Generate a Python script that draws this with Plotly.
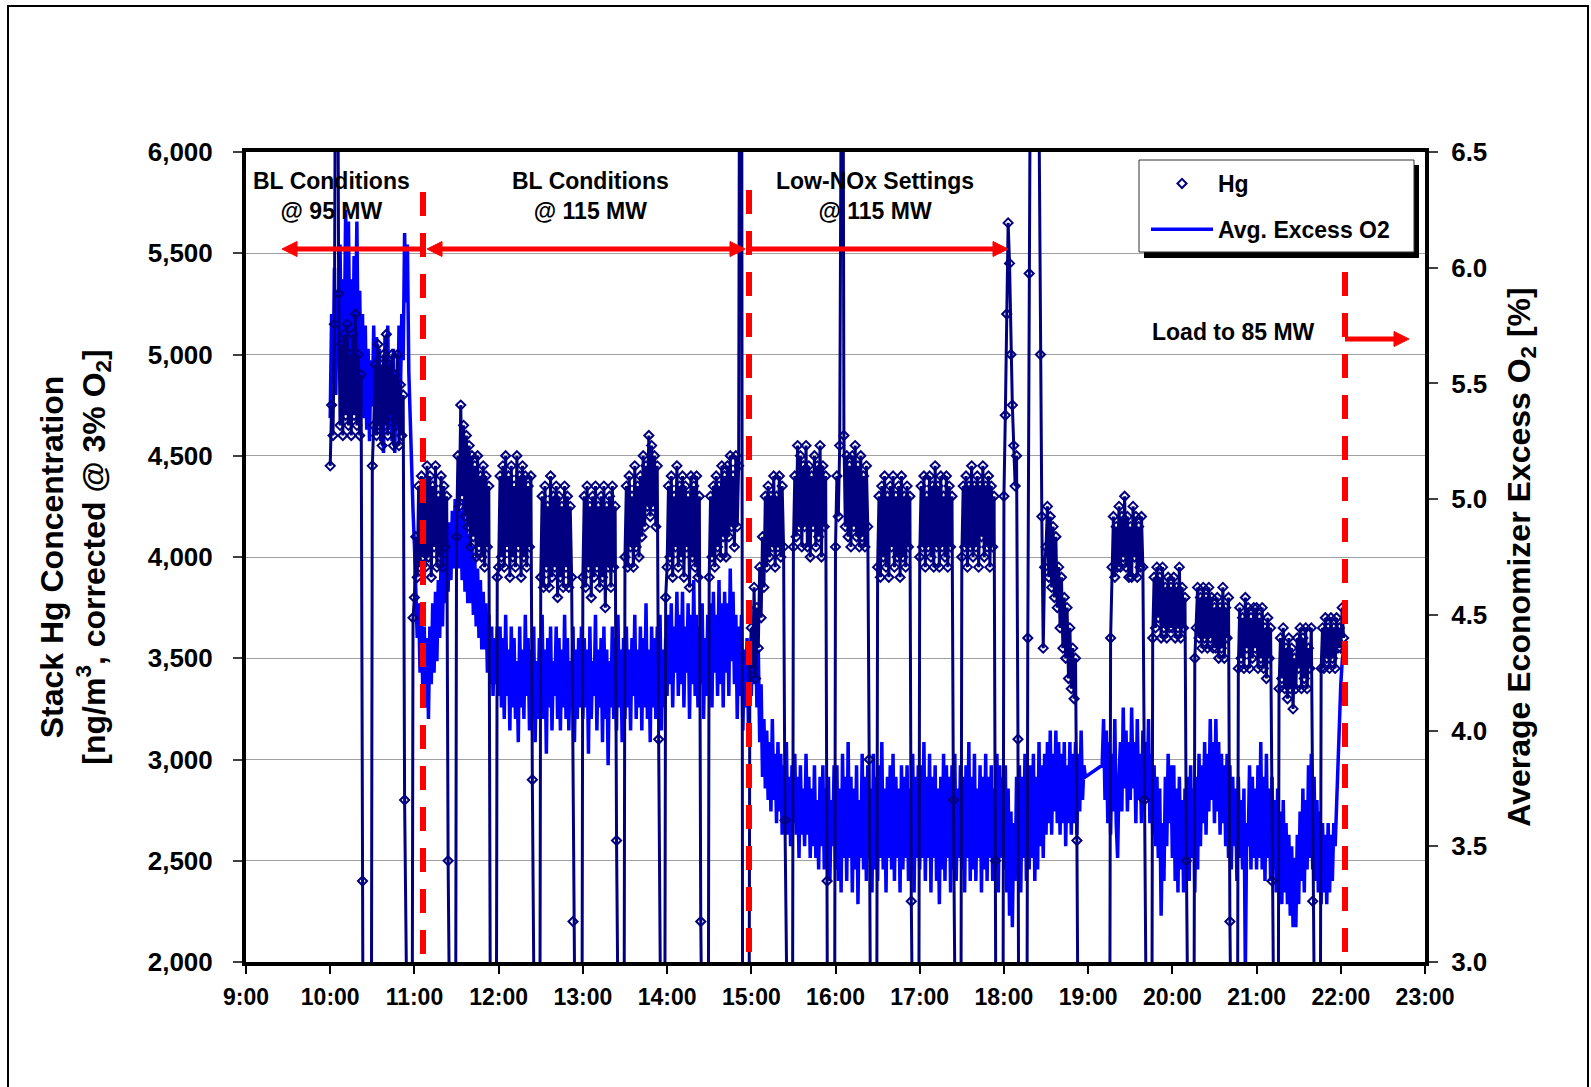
import plotly.graph_objects as go

# ---------------- DATA ----------------
tick_hours = [9, 10, 11, 12, 13, 14, 15, 16, 17, 18, 19, 20, 21, 22, 23]
tick_labels = ["9:00", "10:00", "11:00", "12:00", "13:00", "14:00", "15:00", "16:00",
               "17:00", "18:00", "19:00", "20:00", "21:00", "22:00", "23:00"]

# Stack Hg, ng/m3 @3% O2, 1-minute readings; each block starts at the given time
hg_1000 = [4450, 4750, 4600, 5150, 7200, 7600, 5300, 4650, 5050, 4600, 5100, 4700, 5150, 4650, 5000,
           4600, 5100, 4700, 5200, 4650, 5000, 4600, 4900, 2400, 160, 140, 180, 150, 170, 150]
hg_1030 = [4450, 4650, 4950, 4600, 5050, 4650, 4950, 4550, 5000, 4650, 5100, 4600, 4950, 4700, 5000,
           4550, 4900, 4650, 5000, 4550, 4850, 4600, 4800, 2800, 170, 150, 160, 140, 180, 3700]
hg_1100 = [3800, 4100, 3900, 4350, 3950, 4400, 4000, 4350, 3950, 4450, 4000, 4400, 3900, 4350, 4050,
           4450, 3950, 4300, 4000, 4400, 3950, 4350, 4050, 4300, 2500, 150, 170, 140, 160, 150]
hg_1130 = [4100, 4500, 4250, 4750, 4300, 4650, 4200, 4600, 4150, 4550, 4050, 4500, 4100, 4450, 4000,
           4500, 4050, 4400, 4000, 4450, 3950, 4400, 4050, 4350, 1900, 160, 140, 150, 170, 3900]
hg_1200 = [3950, 4400, 4000, 4450, 3950, 4500, 4050, 4400, 3900, 4450, 4000, 4350, 3950, 4500, 4050,
           4400, 3900, 4450, 4000, 4400, 3950, 4350, 4050, 4400, 2900, 150, 160, 140, 170, 150]
hg_1230 = [3900, 4300, 3850, 4350, 3950, 4250, 3850, 4400, 3900, 4300, 3950, 4350, 3800, 4300, 3900,
           4250, 3850, 4350, 3950, 4300, 3850, 4250, 3900, 2200, 160, 150, 140, 170, 150, 160]
hg_1300 = [3900, 4300, 3850, 4350, 3950, 4250, 3800, 4300, 3900, 4350, 3950, 4250, 3850, 4300, 3900,
           4350, 3750, 4250, 3950, 4300, 3850, 4350, 3950, 4250, 2600, 150, 170, 140, 160, 150]
hg_1330 = [4000, 4350, 3950, 4400, 4050, 4300, 3950, 4450, 4050, 4350, 4000, 4400, 4100, 4500, 4150,
           4450, 4250, 4600, 4200, 4550, 4250, 4500, 4150, 4450, 3100, 150, 160, 140, 170, 3800]
hg_1400 = [3950, 4350, 4000, 4400, 3900, 4300, 4050, 4450, 3950, 4350, 4000, 4400, 3900, 4350, 4050,
           4300, 3850, 4400, 4000, 4350, 3950, 4400, 3900, 4300, 2200, 160, 150, 140, 170, 150]
hg_1430 = [3900, 4300, 4000, 4350, 3950, 4400, 4050, 4350, 4000, 4450, 4100, 4400, 4000, 4450, 4100,
           4500, 4150, 4400, 4050, 4500, 4150, 4450, 8000, 8000, 150, 160, 140, 170, 150, 3500]
hg_1500 = [3650, 3450, 3850, 3400, 3750, 3550, 3950, 3700, 4100, 3850, 4300, 3950, 4350, 4000, 4300,
           4050, 4400, 3950, 4300, 4050, 4400, 4000, 4350, 4050, 2700, 150, 170, 160, 140, 150]
hg_1530 = [4050, 4400, 4100, 4550, 4150, 4500, 4050, 4450, 4150, 4550, 4050, 4450, 4000, 4400, 4150,
           4500, 4050, 4450, 4100, 4550, 4000, 4450, 4150, 4400, 2400, 160, 150, 170, 140, 150]
hg_1600 = [4050, 4400, 4200, 4550, 8000, 8000, 4600, 4150, 4500, 4100, 4450, 4050, 4500, 4150, 4550,
           4100, 4450, 4050, 4500, 4100, 4400, 4050, 4450, 4150, 3000, 150, 140, 160, 170, 150]
hg_1630 = [3950, 4300, 3900, 4350, 4000, 4400, 3950, 4300, 3900, 4350, 4050, 4400, 3950, 4300, 4000,
           4350, 3900, 4400, 4000, 4300, 3950, 4350, 4050, 4300, 2300, 160, 150, 140, 170, 160]
hg_1700 = [4000, 4350, 4050, 4400, 3950, 4300, 4050, 4400, 4000, 4350, 3950, 4450, 4050, 4350, 3950,
           4400, 4050, 4300, 4000, 4400, 3950, 4350, 4050, 4300, 2800, 150, 160, 140, 150, 170]
hg_1730 = [4000, 4350, 4050, 4400, 3950, 4350, 4050, 4450, 4000, 4350, 4050, 4400, 3950, 4350, 4100,
           4450, 4000, 4350, 4050, 4400, 3950, 4350, 4050, 4300, 2500, 150, 170, 160, 140, 150]
hg_1800 = [4300, 4700, 5200, 5650, 5450, 5000, 4750, 4550, 4350, 4500, 3100, 150, 160, 140, 170,
           150, 160, 3600, 5400, 6800, 8000, 8000, 8000, 8000, 8000, 6200, 5000, 4200, 3550, 3950]
hg_1830 = [4050, 4250, 3900, 4200, 3850, 4150, 3800, 4100, 3750, 3950, 3650, 3900, 3550, 3800, 3500,
           3750, 3400, 3650, 3350, 3550, 3300, 3500, 2600, 150, 140, 160, 170, 150, 140, 160]
hg_1900 = [150, 160, 140, 170, 150, 160, 140, 150, 170, 160, 150, 140, 160, 150, 170,
           150, 3600, 3950, 4200, 3900, 4150, 3950, 4250, 3950, 4200, 4000, 4300, 3950, 4200, 3900]
hg_1930 = [4150, 3900, 4250, 4000, 4200, 3900, 4150, 3950, 4200, 3950, 2800, 150, 160, 140, 170,
           150, 3600, 3900, 3650, 3950, 3700, 3900, 3600, 3950, 3650, 3850, 3600, 3900, 3650, 3850]
hg_2000 = [3650, 3900, 3600, 3850, 3650, 3950, 3600, 3850, 3650, 3800, 2500, 160, 150, 140, 170,
           150, 3500, 3650, 3850, 3600, 3800, 3550, 3850, 3600, 3800, 3550, 3850, 3600, 3800, 3550]
hg_2030 = [3750, 3550, 3800, 3500, 3750, 3550, 3850, 3500, 3750, 3600, 3800, 2200, 150, 160, 140,
           150, 170, 3450, 3750, 3500, 3700, 3450, 3800, 3550, 3750, 3450, 3700, 3500, 3750, 3550]
hg_2100 = [3750, 3450, 3700, 3500, 3750, 3450, 3650, 3400, 3700, 3500, 3650, 2400, 150, 160, 140,
           170, 3350, 3600, 3400, 3650, 3350, 3550, 3300, 3600, 3350, 3550, 3250, 3500, 3350, 3600]
hg_2130 = [3450, 3650, 3350, 3600, 3400, 3650, 3350, 3550, 3450, 3650, 2300, 150, 160, 140, 150,
           170, 3450, 3650, 3450, 3700, 3500, 3650, 3450, 3700, 3500, 3650, 3450, 3700, 3550, 3650]
hg_2200 = [3550, 3750, 3600]

# Average economizer excess O2, %, 1-minute readings; each block starts at the given time
o2_1000 = [5.35, 5.80, 5.50, 6.00, 5.45, 5.90, 5.60, 6.10, 5.55, 5.95,
           5.65, 6.25, 5.70, 6.20, 5.60, 5.95, 5.50, 6.05, 5.75, 6.20,
           5.55, 5.90, 5.45, 5.80, 5.35, 5.75, 5.30, 5.65, 5.25, 5.60,
           5.40, 5.75, 5.30, 5.70, 5.35, 5.65, 5.25, 5.55, 5.20, 5.70,
           5.35, 5.75, 5.30, 5.60, 5.25, 5.65, 5.20, 5.55, 5.30, 5.75,
           5.45, 5.80, 5.60, 6.15, 5.85, 6.10, 5.55, 5.30, 5.10, 4.95]
o2_1100 = [4.80, 4.60, 4.40, 4.55, 4.25, 4.50, 4.15, 4.45, 4.10, 4.40,
           4.05, 4.45, 4.20, 4.55, 4.25, 4.60, 4.30, 4.65, 4.40, 4.75,
           4.45, 4.80, 4.55, 4.85, 4.60, 4.90, 4.65, 4.95, 4.70, 5.00,
           4.75, 5.05, 4.70, 4.95, 4.65, 5.00, 4.60, 4.90, 4.55, 4.85,
           4.55, 4.80, 4.50, 4.75, 4.45, 4.70, 4.40, 4.65, 4.35, 4.60,
           4.35, 4.55, 4.25, 4.50, 4.20, 4.45, 4.15, 4.40, 4.20, 4.45]
o2_1200 = [4.15, 4.45, 4.10, 4.40, 4.05, 4.50, 4.15, 4.35, 4.00, 4.45,
           4.10, 4.40, 4.05, 4.30, 3.95, 4.45, 4.10, 4.35, 4.05, 4.50,
           4.15, 4.40, 4.00, 4.35, 4.10, 4.45, 3.95, 4.30, 4.05, 4.40,
           4.10, 4.50, 4.05, 4.35, 3.90, 4.40, 4.10, 4.45, 4.00, 4.30,
           4.15, 4.45, 4.05, 4.40, 4.00, 4.35, 4.10, 4.50, 4.05, 4.40,
           4.00, 4.30, 4.10, 4.45, 3.95, 4.35, 4.05, 4.40, 4.10, 4.45]
o2_1300 = [4.05, 4.40, 4.10, 4.35, 3.90, 4.45, 4.05, 4.30, 4.15, 4.50,
           4.00, 4.35, 4.10, 4.40, 3.95, 4.45, 4.05, 4.35, 3.85, 4.30,
           4.10, 4.45, 4.05, 4.40, 4.00, 4.50, 4.10, 4.35, 3.95, 4.40,
           4.05, 4.45, 4.10, 4.35, 4.00, 4.40, 4.15, 4.50, 4.05, 4.35,
           4.10, 4.45, 4.00, 4.40, 4.10, 4.55, 4.05, 4.35, 3.95, 4.45,
           4.10, 4.40, 4.05, 4.45, 4.15, 4.50, 4.00, 4.35, 4.10, 4.40]
o2_1400 = [4.15, 4.50, 4.20, 4.55, 4.10, 4.45, 4.25, 4.60, 4.15, 4.50,
           4.20, 4.60, 4.10, 4.45, 4.25, 4.55, 4.05, 4.50, 4.20, 4.65,
           4.15, 4.50, 4.10, 4.45, 4.20, 4.55, 4.05, 4.40, 4.15, 4.50,
           4.20, 4.55, 4.10, 4.60, 4.25, 4.50, 4.15, 4.65, 4.20, 4.55,
           4.10, 4.60, 4.25, 4.55, 4.15, 4.70, 4.30, 4.60, 4.20, 4.50,
           4.05, 4.45, 4.15, 4.50, 4.00, 4.35, 4.10, 4.40, 4.00, 4.25]
o2_1500 = [4.15, 4.45, 4.20, 4.50, 4.10, 4.35, 3.95, 4.20, 3.80, 4.05,
           3.75, 4.00, 3.70, 3.95, 3.65, 4.05, 3.70, 3.90, 3.60, 3.95,
           3.65, 3.90, 3.55, 3.85, 3.60, 3.95, 3.55, 3.80, 3.50, 3.85,
           3.60, 3.90, 3.55, 3.80, 3.45, 3.85, 3.55, 3.75, 3.50, 3.90,
           3.55, 3.80, 3.45, 3.75, 3.50, 3.85, 3.45, 3.70, 3.40, 3.80,
           3.50, 3.85, 3.40, 3.75, 3.45, 3.80, 3.35, 3.70, 3.50, 3.85]
o2_1600 = [3.40, 3.85, 3.35, 3.75, 3.30, 3.90, 3.45, 3.80, 3.35, 3.95,
           3.45, 3.80, 3.30, 3.75, 3.40, 3.85, 3.25, 3.70, 3.45, 3.90,
           3.40, 3.80, 3.35, 3.85, 3.45, 3.75, 3.30, 3.90, 3.40, 3.80,
           3.35, 3.85, 3.45, 3.95, 3.40, 3.75, 3.30, 3.80, 3.45, 3.85,
           3.40, 3.90, 3.35, 3.80, 3.45, 3.75, 3.30, 3.85, 3.40, 3.80,
           3.45, 3.85, 3.35, 3.75, 3.40, 3.90, 3.30, 3.80, 3.45, 3.85]
o2_1700 = [3.40, 3.85, 3.45, 3.95, 3.35, 3.80, 3.45, 3.90, 3.30, 3.80,
           3.45, 3.85, 3.35, 3.75, 3.25, 3.80, 3.40, 3.90, 3.35, 3.85,
           3.45, 3.80, 3.30, 3.85, 3.40, 3.90, 3.35, 3.75, 3.45, 3.85,
           3.40, 3.80, 3.30, 3.85, 3.45, 3.95, 3.35, 3.80, 3.40, 3.90,
           3.35, 3.75, 3.45, 3.85, 3.30, 3.80, 3.40, 3.90, 3.35, 3.80,
           3.45, 3.85, 3.35, 3.75, 3.40, 3.90, 3.30, 3.85, 3.45, 3.80]
o2_1800 = [3.40, 3.85, 3.30, 3.75, 3.20, 3.65, 3.15, 3.60, 3.35, 3.80,
           3.40, 3.85, 3.30, 3.80, 3.45, 3.90, 3.35, 3.75, 3.40, 3.85,
           3.45, 3.90, 3.35, 3.80, 3.40, 3.95, 3.50, 3.85, 3.45, 3.90,
           3.55, 3.95, 3.60, 4.00, 3.55, 3.90, 3.65, 4.00, 3.60, 3.95,
           3.55, 3.90, 3.60, 3.95, 3.50, 3.85, 3.60, 3.95, 3.55, 3.90,
           3.60, 3.95, 3.55, 3.90, 3.65, 4.00, 3.70, 3.85, 3.80]
o2_1910 = [3.85, 4.05, 3.70, 4.00, 3.60, 3.95, 3.55, 3.90, 3.65, 4.05,
           3.60, 3.45, 3.80, 3.95, 3.65, 4.10, 3.75, 4.00, 3.65, 3.95,
           3.70, 4.10, 3.75, 3.95, 3.60, 4.05, 3.70, 3.90, 3.60, 4.00,
           3.65, 3.95, 3.70, 4.05, 3.60, 3.90, 3.55, 3.85, 3.50, 3.80,
           3.45, 3.75, 3.20, 3.60, 3.35, 3.80, 3.50, 3.90, 3.60, 3.85]
o2_2000 = [3.45, 3.85, 3.35, 3.75, 3.30, 3.80, 3.40, 3.70, 3.30, 3.75,
           3.40, 3.80, 3.35, 3.85, 3.45, 3.75, 3.30, 3.80, 3.40, 3.90,
           3.50, 3.85, 3.60, 3.95, 3.55, 3.90, 3.65, 4.05, 3.70, 3.95,
           3.60, 4.05, 3.65, 3.95, 3.55, 3.90, 3.60, 3.85, 3.50, 3.90,
           3.45, 3.85, 3.40, 3.80, 3.50, 3.75, 3.35, 3.80, 3.45, 3.70,
           3.40, 3.75, 2.95, 3.60, 3.50, 3.85, 3.40, 3.80, 3.45, 3.75]
o2_2100 = [3.40, 3.85, 3.45, 3.95, 3.40, 3.80, 3.35, 3.90, 3.45, 3.75,
           3.35, 3.80, 3.40, 3.70, 3.30, 3.75, 3.35, 3.65, 3.25, 3.70,
           3.30, 3.60, 3.25, 3.55, 3.20, 3.50, 3.15, 3.45, 3.15, 3.55,
           3.25, 3.65, 3.35, 3.75, 3.30, 3.70, 3.40, 3.85, 3.45, 3.90,
           3.40, 3.80, 3.35, 3.70, 3.30, 3.65, 3.25, 3.60, 3.30, 3.55,
           3.25, 3.60, 3.30, 3.55, 3.35, 3.60, 3.50, 3.70, 3.90, 4.05,
           4.20, 4.30, 4.35]

hg_blocks = [("10:00", hg_1000), ("10:30", hg_1030), ("11:00", hg_1100), ("11:30", hg_1130),
             ("12:00", hg_1200), ("12:30", hg_1230), ("13:00", hg_1300), ("13:30", hg_1330),
             ("14:00", hg_1400), ("14:30", hg_1430), ("15:00", hg_1500), ("15:30", hg_1530),
             ("16:00", hg_1600), ("16:30", hg_1630), ("17:00", hg_1700), ("17:30", hg_1730),
             ("18:00", hg_1800), ("18:30", hg_1830), ("19:00", hg_1900), ("19:30", hg_1930),
             ("20:00", hg_2000), ("20:30", hg_2030), ("21:00", hg_2100), ("21:30", hg_2130),
             ("22:00", hg_2200)]
o2_blocks = [("10:00", o2_1000), ("11:00", o2_1100), ("12:00", o2_1200), ("13:00", o2_1300),
             ("14:00", o2_1400), ("15:00", o2_1500), ("16:00", o2_1600), ("17:00", o2_1700),
             ("18:00", o2_1800), ("19:10", o2_1910), ("20:00", o2_2000), ("21:00", o2_2100)]


def hm(s):
    h, m = s.split(":")
    return int(h) + int(m) / 60.0


def expand(blocks, step_min):
    xs, ys = [], []
    for start, vals in blocks:
        t0 = hm(start)
        for i, v in enumerate(vals):
            xs.append(t0 + i * step_min / 60.0)
            ys.append(v)
    return xs, ys


hg_x, hg_y = expand(hg_blocks, 1)
o2_x, o2_y = expand(o2_blocks, 1)

# ---------------- LAYOUT HELPERS ----------------
W, H = 1591, 1087
ML, MR, MT, MB = 246, 166, 152, 125
PW, PH = W - ML - MR, H - MT - MB


def pxx(px):  # pixel -> paper x
    return (px - ML) / PW


def pxy(py):  # pixel -> paper y
    return (H - MB - py) / PH


def hx(px):  # pixel -> hours
    return 9 + (px - ML) / PW * 14


def hy(py):  # pixel -> Hg value
    return 6000 - (py - MT) / PH * 4000


FONT = "Liberation Sans, Arial, Helvetica, sans-serif"
NAVY = "#000080"
RED = "#FF0000"

fig = go.Figure()

fig.add_trace(go.Scatter(
    x=o2_x, y=o2_y, mode="lines", name="Avg. Excess O2", yaxis="y",
    line=dict(color="#0000FF", width=3.5), legendrank=2, legendgroup="o2"))
fig.add_trace(go.Scatter(
    x=hg_x, y=hg_y, mode="lines", yaxis="y2", showlegend=False, legendgroup="hg",
    line=dict(color=NAVY, width=3), hoverinfo="skip"))
fig.add_trace(go.Scatter(
    x=hg_x, y=hg_y, mode="markers", name="Hg", yaxis="y2", legendrank=1, legendgroup="hg",
    marker=dict(symbol="diamond-open", size=7, color=NAVY, line=dict(color=NAVY, width=2))))

shapes = [
    # outer chart border
    dict(type="rect", xref="paper", yref="paper", x0=pxx(8), x1=pxx(1588), y0=pxy(1100), y1=pxy(6),
         line=dict(color="black", width=2), fillcolor="rgba(0,0,0,0)", layer="above"),
]
# red dashed phase boundaries
for px, top in [(423, 192), (749, 190), (1345, 272)]:
    shapes.append(dict(type="line", xref="x", yref="y2", x0=hx(px), x1=hx(px), y0=hy(top), y1=hy(958),
                       line=dict(color=RED, width=6, dash="24px,17px"), layer="above"))


def harrow(x0px, x1px, py, start_head=False, end_head=True, hl=15, hw=7.5):
    d = 1 if x1px > x0px else -1
    xs = x0px + (d * hl if start_head else 0)
    xe = x1px - (d * hl if end_head else 0)
    shapes.append(dict(type="line", xref="x", yref="y2", x0=hx(xs), x1=hx(xe), y0=hy(py), y1=hy(py),
                       line=dict(color=RED, width=5), layer="above"))
    heads = []
    if end_head:
        heads.append((x1px, -d))
    if start_head:
        heads.append((x0px, d))
    for tip, back in heads:
        path = "M {} {} L {} {} L {} {} Z".format(hx(tip), hy(py), hx(tip + back * hl), hy(py - hw),
                                                  hx(tip + back * hl), hy(py + hw))
        shapes.append(dict(type="path", xref="x", yref="y2", path=path, fillcolor=RED,
                           line=dict(color=RED, width=1), layer="above"))


harrow(423, 282, 249)
harrow(427, 745, 249, start_head=True, end_head=True)
harrow(751, 1008, 249)
harrow(1345, 1409, 339)

# legend box with drop shadow (Excel style)
shapes.append(dict(type="rect", xref="paper", yref="paper", x0=pxx(1144), x1=pxx(1419),
                   y0=pxy(258), y1=pxy(165), line=dict(width=0), fillcolor="black", layer="above"))
shapes.append(dict(type="rect", xref="paper", yref="paper", x0=pxx(1139), x1=pxx(1414),
                   y0=pxy(252), y1=pxy(160), line=dict(width=1, color="#303030"),
                   fillcolor="white", layer="above"))

annotations = []
for text, cx, cy in [("BL Conditions<br>@ 95 MW", 331, 196),
                     ("BL Conditions<br>@ 115 MW", 590, 196),
                     ("Low-NOx Settings<br>@ 115 MW", 875, 196),
                     ("Load to 85 MW", 1233, 332)]:
    annotations.append(dict(x=pxx(cx), y=pxy(cy), xref="paper", yref="paper", text=text,
                            showarrow=False, xanchor="center", yanchor="middle",
                            font=dict(size=23, color="black", family=FONT, weight="bold")))

fig.update_layout(
    width=W, height=H,
    margin=dict(l=ML, r=MR, t=MT, b=MB, pad=0, autoexpand=False),
    paper_bgcolor="white", plot_bgcolor="white",
    font=dict(family=FONT, color="black", weight="bold"),
    showlegend=True,
    legend=dict(x=pxx(1146), y=pxy(162), xanchor="left", yanchor="top",
                bgcolor="rgba(0,0,0,0)", borderwidth=0,
                font=dict(size=23, family=FONT, color="black", weight="bold"),
                itemwidth=62, tracegroupgap=13),
    xaxis=dict(range=[9, 23], tickmode="array", tickvals=tick_hours, ticktext=tick_labels,
               showgrid=False, zeroline=False, showline=True, linecolor="black", linewidth=4,
               mirror=True, ticks="outside", ticklen=8, tickwidth=1.5, tickcolor="black",
               ticklabelstandoff=3,
               tickfont=dict(size=23, family=FONT, color="black", weight="bold")),
    yaxis=dict(range=[3.0, 6.5], tickmode="linear", tick0=3.0, dtick=0.5, tickformat=".1f",
               side="right", showgrid=False, zeroline=False, showline=True, linecolor="black",
               linewidth=4, ticks="outside", ticklen=9, tickwidth=1.5, tickcolor="#404040",
               ticklabelstandoff=8,
               tickfont=dict(size=26, family=FONT, color="black", weight="bold"),
               title=dict(text="Average Economizer Excess O<sub>2</sub> [%]", standoff=22,
                          font=dict(size=32, family=FONT, color="black", weight="bold"))),
    yaxis2=dict(range=[2000, 6000], tickmode="linear", tick0=2000, dtick=500, tickformat=",",
                side="left", overlaying="y", anchor="x",
                showgrid=True, gridcolor="#A0A0A0", gridwidth=1, zeroline=False,
                showline=True, linecolor="black", linewidth=4, ticks="outside", ticklen=9,
                tickwidth=1.5, tickcolor="#404040", ticklabelstandoff=15,
                tickfont=dict(size=26, family=FONT, color="black", weight="bold"),
                title=dict(text="Stack Hg Concentration<br>[ng/m<sup>3</sup>, corrected @ 3% O<sub>2</sub>]",
                           standoff=34,
                           font=dict(size=32, family=FONT, color="black", weight="bold"))),
    shapes=shapes,
    annotations=annotations,
)

fig.write_html("out.html", config={"displayModeBar": False},
               post_script="document.body.style.margin='0';document.body.style.overflow='hidden';")
